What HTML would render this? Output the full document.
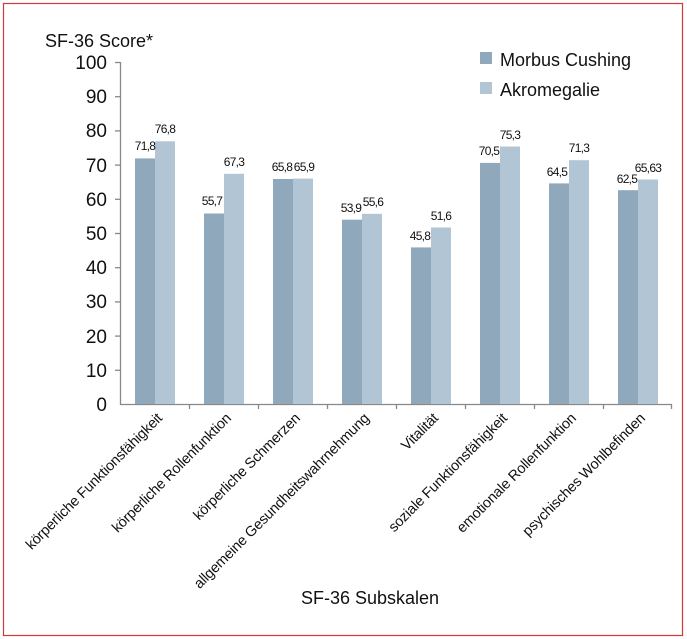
<!DOCTYPE html>
<html><head><meta charset="utf-8"><style>
body{margin:0;background:#fff;}
svg{display:block;font-family:"Liberation Sans",sans-serif;}
.v{font-size:12px;text-anchor:middle;fill:#111;letter-spacing:-0.7px;}
.c{font-size:14.5px;text-anchor:end;fill:#111;letter-spacing:-0.2px;}
.d{fill:#8fa8bc;} .l{fill:#b2c5d5;}
</style></head><body>
<svg width="687" height="639" viewBox="0 0 687 639" xmlns="http://www.w3.org/2000/svg">
<rect x="3.5" y="3.5" width="679" height="632" fill="none" stroke="#d03a3a" stroke-width="1.2"/>
<text x="45" y="47" font-size="18" fill="#111">SF-36 Score*</text>
<g stroke="#888" stroke-width="1.3">
<line x1="120.5" y1="62" x2="120.5" y2="405"/>
<line x1="120" y1="404.5" x2="672" y2="404.5"/>
<line x1="115" y1="62.5" x2="120" y2="62.5"/>
<line x1="115" y1="96.7" x2="120" y2="96.7"/>
<line x1="115" y1="130.9" x2="120" y2="130.9"/>
<line x1="115" y1="165.1" x2="120" y2="165.1"/>
<line x1="115" y1="199.3" x2="120" y2="199.3"/>
<line x1="115" y1="233.5" x2="120" y2="233.5"/>
<line x1="115" y1="267.7" x2="120" y2="267.7"/>
<line x1="115" y1="301.9" x2="120" y2="301.9"/>
<line x1="115" y1="336.1" x2="120" y2="336.1"/>
<line x1="115" y1="370.3" x2="120" y2="370.3"/>
<line x1="189.5" y1="404" x2="189.5" y2="409"/>
<line x1="258.5" y1="404" x2="258.5" y2="409"/>
<line x1="327.5" y1="404" x2="327.5" y2="409"/>
<line x1="396.5" y1="404" x2="396.5" y2="409"/>
<line x1="465.5" y1="404" x2="465.5" y2="409"/>
<line x1="534.5" y1="404" x2="534.5" y2="409"/>
<line x1="603.5" y1="404" x2="603.5" y2="409"/>
<line x1="671.5" y1="404" x2="671.5" y2="409"/>
</g>
<g font-size="19" fill="#111" text-anchor="end">
<text x="107" y="69">100</text><text x="107" y="103">90</text><text x="107" y="137">80</text>
<text x="107" y="172">70</text><text x="107" y="206">60</text><text x="107" y="240">50</text>
<text x="107" y="274">40</text><text x="107" y="308">30</text><text x="107" y="343">20</text>
<text x="107" y="377">10</text><text x="107" y="411">0</text>
</g>

<rect class="d" x="135" y="158.4" width="20" height="245.6"/><rect class="l" x="155" y="141.3" width="20" height="262.7"/>
<rect class="d" x="204" y="213.5" width="20" height="190.5"/><rect class="l" x="224" y="173.8" width="20" height="230.2"/>
<rect class="d" x="273" y="179.0" width="20" height="225.0"/><rect class="l" x="293" y="178.6" width="20" height="225.4"/>
<rect class="d" x="342" y="219.7" width="20" height="184.3"/><rect class="l" x="362" y="213.8" width="20" height="190.2"/>
<rect class="d" x="411" y="247.4" width="20" height="156.6"/><rect class="l" x="431" y="227.5" width="20" height="176.5"/>
<rect class="d" x="480" y="162.9" width="20" height="241.1"/><rect class="l" x="500" y="146.5" width="20" height="257.5"/>
<rect class="d" x="549" y="183.4" width="20" height="220.6"/><rect class="l" x="569" y="160.2" width="20" height="243.8"/>
<rect class="d" x="618" y="190.2" width="20" height="213.8"/><rect class="l" x="638" y="179.5" width="20" height="224.5"/>

<text class="v" x="145" y="150">71,8</text><text class="v" x="165" y="133">76,8</text>
<text class="v" x="212" y="205">55,7</text><text class="v" x="234" y="166">67,3</text>
<text class="v" x="282" y="171">65,8</text><text class="v" x="304" y="171">65,9</text>
<text class="v" x="351" y="212">53,9</text><text class="v" x="373" y="206">55,6</text>
<text class="v" x="420" y="240">45,8</text><text class="v" x="441" y="220">51,6</text>
<text class="v" x="489" y="155">70,5</text><text class="v" x="510" y="139">75,3</text>
<text class="v" x="557" y="176">64,5</text><text class="v" x="579" y="152">71,3</text>
<text class="v" x="627" y="183">62,5</text><text class="v" x="648" y="172">65,63</text>

<text class="c" x="163" y="419" transform="rotate(-45 163 419)">körperliche Funktionsfähigkeit</text>
<text class="c" x="232" y="419" transform="rotate(-45 232 419)">körperliche Rollenfunktion</text>
<text class="c" x="301" y="419" transform="rotate(-45 301 419)">körperliche Schmerzen</text>
<text class="c" x="370" y="419" transform="rotate(-45 370 419)">allgemeine Gesundheitswahrnehmung</text>
<text class="c" x="439" y="419" transform="rotate(-45 439 419)">Vitalität</text>
<text class="c" x="508" y="419" transform="rotate(-45 508 419)">soziale Funktionsfähigkeit</text>
<text class="c" x="577" y="419" transform="rotate(-45 577 419)">emotionale Rollenfunktion</text>
<text class="c" x="646" y="419" transform="rotate(-45 646 419)">psychisches Wohlbefinden</text>

<rect x="480" y="52" width="12" height="12" fill="#8fa8bc"/>
<rect x="480" y="82" width="12" height="12" fill="#b2c5d5"/>
<text x="500" y="66" font-size="18" fill="#111">Morbus Cushing</text>
<text x="500" y="96" font-size="18" fill="#111">Akromegalie</text>
<text x="370" y="604" font-size="18" fill="#111" text-anchor="middle">SF-36 Subskalen</text>
</svg>
</body></html>
